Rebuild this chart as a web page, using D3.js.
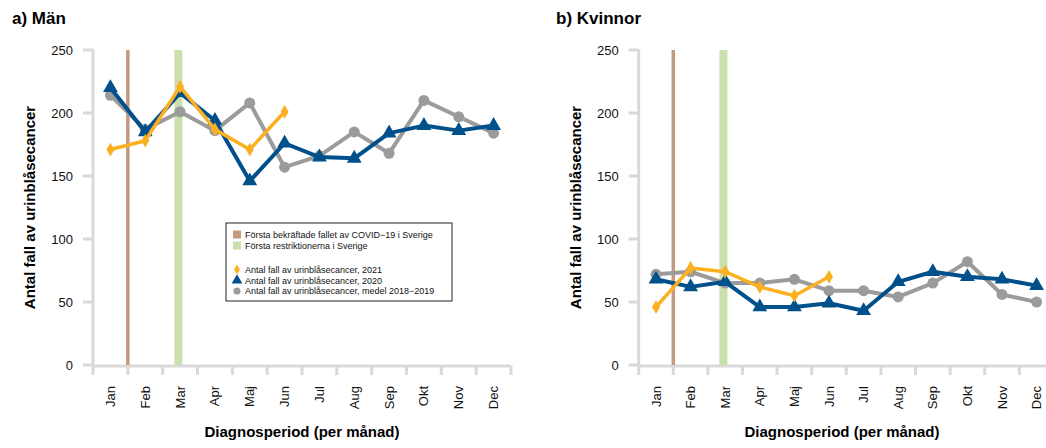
<!DOCTYPE html>
<html>
<head>
<meta charset="utf-8">
<script src="https://cdn.jsdelivr.net/npm/d3@7"></script>
<style>
  body { margin: 0; background: #fff; }
  svg { font-family: "Liberation Sans", Arial, sans-serif; }
</style>
</head>
<body>
<div id="chart"></div>
<script>
// Months and tick labels
const months = ["Jan", "Feb", "Mar", "Apr", "Maj", "Jun", "Jul", "Aug", "Sep", "Okt", "Nov", "Dec"];
const yTicks = [0, 50, 100, 150, 200, 250];

// Men
const men2021 = [171, 178, 221, 187, 171, 201];
const men2020 = [220, 185, 216, 194, 146, 176, 165, 164, 184, 190, 186, 190];
const menMean = [214, 187, 201, 186, 208, 157, 166, 185, 168, 210, 197, 184];

// Women
const women2021 = [46, 77, 74, 62, 55, 70];
const women2020 = [68, 62, 66, 46, 46, 49, 43, 66, 74, 70, 68, 63];
const womenMean = [72, 74, 65, 65, 68, 59, 59, 54, 65, 82, 56, 50];

// Events, as position in months from start of January
const covidFirstCase = 1.0;
const firstRestrictions = 2.45;

const colors = {
  y2021: "#fbb021",
  y2020: "#00508c",
  mean: "#9b9b9b",
  covid: "#c49a7e",
  restr: "#c9e1ad",
  axis: "#d9d9d9"
};

const svg = d3.select("#chart").append("svg")
  .attr("width", 1046)
  .attr("height", 448);

function panel(opts) {
  const left = opts.left, right = opts.left + opts.width;
  const top = 50, bottom = 365;

  const g = svg.append("g");

  const x = d3.scaleBand().domain(months).range([left, right]);
  const xLin = d3.scaleLinear().domain([0, 12]).range([left, right]);
  const y = d3.scaleLinear().domain([0, 250]).range([bottom, top]);

  // title
  g.append("text")
    .attr("x", opts.titleX).attr("y", 24)
    .style("font-size", "17px").style("font-weight", "bold")
    .text(opts.title);

  // y axis
  g.append("line")
    .attr("x1", left).attr("x2", left)
    .attr("y1", top - 1).attr("y2", bottom + 1)
    .style("stroke", colors.axis).style("stroke-width", 3);
  g.selectAll(".ytick").data(yTicks).enter().append("line")
    .attr("x1", left - 10).attr("x2", left)
    .attr("y1", d => y(d)).attr("y2", d => y(d))
    .style("stroke", colors.axis).style("stroke-width", 3);
  g.selectAll(".ylab").data(yTicks).enter().append("text")
    .attr("x", left - 20).attr("y", d => y(d))
    .attr("dy", "0.35em")
    .attr("text-anchor", "end")
    .style("font-size", "13px").style("fill", "#111")
    .text(d => d);

  // x axis
  g.append("line")
    .attr("x1", left).attr("x2", right)
    .attr("y1", bottom + 1).attr("y2", bottom + 1)
    .style("stroke", colors.axis).style("stroke-width", 3);
  g.selectAll(".xtick").data(d3.range(13)).enter().append("line")
    .attr("x1", d => xLin(d)).attr("x2", d => xLin(d))
    .attr("y1", bottom + 1).attr("y2", bottom + 10)
    .style("stroke", colors.axis).style("stroke-width", 3);
  g.selectAll(".xlab").data(months).enter().append("text")
    .attr("transform", d => `translate(${x(d) + x.bandwidth() / 2 + 4.5},386) rotate(-90)`)
    .attr("text-anchor", "end")
    .style("font-size", "13px").style("fill", "#111")
    .text(d => d);

  // axis titles
  g.append("text")
    .attr("x", opts.xTitleX)
    .attr("y", 437)
    .attr("text-anchor", "middle")
    .style("font-size", "15px").style("font-weight", "bold")
    .text("Diagnosperiod (per månad)");
  g.append("text")
    .attr("transform", `translate(${left - 58},${(top + bottom) / 2}) rotate(-90)`)
    .attr("text-anchor", "middle")
    .style("font-size", "15px").style("font-weight", "bold")
    .text("Antal fall av urinblåsecancer");

  // event bars
  g.append("line")
    .attr("x1", xLin(covidFirstCase)).attr("x2", xLin(covidFirstCase))
    .attr("y1", y(250)).attr("y2", y(0))
    .style("stroke", colors.covid).style("stroke-width", 3.5);
  g.append("line")
    .attr("x1", xLin(firstRestrictions)).attr("x2", xLin(firstRestrictions))
    .attr("y1", y(250)).attr("y2", y(0))
    .style("stroke", colors.restr).style("stroke-width", 8);

  const cx = (d, i) => x(months[i]) + x.bandwidth() / 2;
  const line = d3.line().x((d, i) => cx(d, i)).y(d => y(d));

  // mean 2018-2019
  g.append("path").attr("d", line(opts.mean))
    .style("fill", "none").style("stroke", colors.mean).style("stroke-width", 4)
    .style("stroke-linejoin", "round");
  g.selectAll(".mpt").data(opts.mean).enter().append("circle")
    .attr("cx", cx).attr("cy", d => y(d)).attr("r", 5.5)
    .style("fill", colors.mean);

  // 2020
  g.append("path").attr("d", line(opts.y2020))
    .style("fill", "none").style("stroke", colors.y2020).style("stroke-width", 4)
    .style("stroke-linejoin", "round");
  g.selectAll(".tpt").data(opts.y2020).enter().append("path")
    .attr("d", d3.symbol().type(d3.symbolTriangle).size(95))
    .attr("transform", (d, i) => `translate(${cx(d, i)},${y(d)})`)
    .style("fill", colors.y2020);

  // 2021
  g.append("path").attr("d", line(opts.y2021))
    .style("fill", "none").style("stroke", colors.y2021).style("stroke-width", 3.5)
    .style("stroke-linejoin", "round");
  g.selectAll(".dpt").data(opts.y2021).enter().append("path")
    .attr("d", d3.symbol().type(d3.symbolDiamond).size(55))
    .attr("transform", (d, i) => `translate(${cx(d, i)},${y(d)})`)
    .style("fill", colors.y2021);

  return g;
}

const gMen = panel({ left: 93, width: 418, xTitleX: 302, titleX: 12, title: "a) Män", y2021: men2021, y2020: men2020, mean: menMean });
panel({ left: 638.7, width: 415.2, xTitleX: 842, titleX: 556, title: "b) Kvinnor", y2021: women2021, y2020: women2020, mean: womenMean });

// legend (left panel only)
const legendItems = [
  { label: "Första bekräftade fallet av COVID−19 i Sverige", type: "rect", color: colors.covid, dy: 0 },
  { label: "Första restriktionerna i Sverige", type: "rect", color: colors.restr, dy: 11 },
  { label: "Antal fall av urinblåsecancer, 2021", type: d3.symbolDiamond, color: colors.y2021, dy: 35, size: 30 },
  { label: "Antal fall av urinblåsecancer, 2020", type: d3.symbolTriangle, color: colors.y2020, dy: 46, size: 50 },
  { label: "Antal fall av urinblåsecancer, medel 2018−2019", type: d3.symbolCircle, color: colors.mean, dy: 56.5, size: 40 }
];
const lg = gMen.append("g").attr("transform", "translate(226,223)");
lg.append("rect")
  .attr("width", 226).attr("height", 78)
  .style("fill", "#fff").style("stroke", "#222").style("stroke-width", 1);
legendItems.forEach(it => {
  const yy = 11.5 + it.dy;
  if (it.type === "rect") {
    lg.append("rect").attr("x", 7).attr("y", yy - 4).attr("width", 8).attr("height", 8)
      .style("fill", it.color);
  } else {
    lg.append("path").attr("d", d3.symbol().type(it.type).size(it.size))
      .attr("transform", `translate(11,${yy})`).style("fill", it.color);
  }
  lg.append("text").attr("x", 19).attr("y", yy).attr("dy", "0.35em")
    .style("font-size", "9px").style("fill", "#111")
    .text(it.label);
});
</script>
</body>
</html>
